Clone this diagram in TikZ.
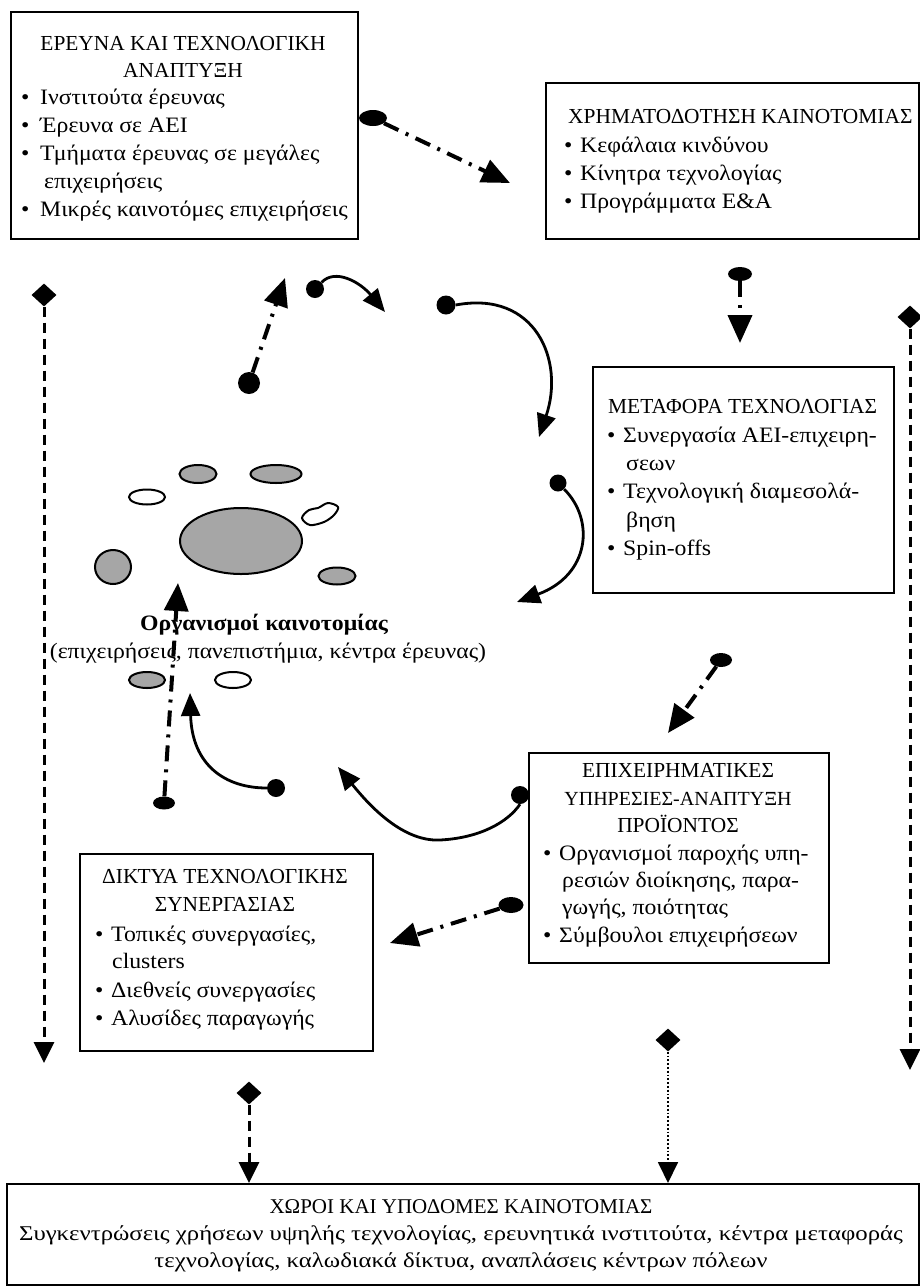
\documentclass[tikz,border=0pt]{standalone}
\usepackage{fontspec}
\setmainfont{Liberation Serif}
\newfontfamily\bodyfont[FakeStretch=1.08]{Liberation Serif}
\newfontfamily\widefont[FakeStretch=1.18]{Liberation Serif}
\usetikzlibrary{arrows.meta,shapes.geometric}
\begin{document}
\begin{tikzpicture}[x=1pt,y=-1pt,
  box/.style={draw, line width=2pt, inner sep=0pt, anchor=north west},
  tl/.style={font=\bodyfont\fontsize{22}{28}\selectfont, inner sep=0pt, anchor=base west},
  hl/.style={font=\fontsize{21.4}{28}\selectfont, inner sep=0pt, anchor=base west},
  tc/.style={font=\fontsize{21.4}{28}\selectfont, inner sep=0pt, anchor=base},
  bc/.style={font=\fontsize{21}{27}\selectfont, inner sep=0pt, anchor=base},
  bw/.style={font=\widefont\fontsize{21}{27}\selectfont, inner sep=0pt, anchor=base},
  bdot/.style={circle, fill=black, inner sep=0pt, minimum size=#1},
  eblob/.style={ellipse, fill=black, inner sep=0pt, minimum width=24pt, minimum height=14pt},
  dmd/.style={diamond, fill=black, inner sep=0pt, minimum width=25pt, minimum height=23pt},
  dd/.style={line width=4pt, dash pattern=on 16pt off 8pt on 3pt off 8pt},
  curv/.style={line width=2.8pt},
  vd/.style={line width=3pt, dash pattern=on 10pt off 6pt},
  vdot/.style={line width=1.8pt, dash pattern=on 1.8pt off 2pt},
  bigtip/.style={-{Triangle[length=28pt,width=24pt]}},
  ctip/.style={-{Triangle[length=23pt,width=19pt]}},
  vtip/.style={-{Triangle[length=21pt,width=20pt]}},
  org/.style={ellipse, draw, line width=2pt, inner sep=0pt},
  shade/.style={fill=black!35}
]
\useasboundingbox (0,0) rectangle (920,1286);

% ---------- Box 1 ----------
\node[box, minimum width=347pt, minimum height=227pt] (b1) at (10,11) {};
\node[tc] (b1t1) at (183,50) {ΕΡΕΥΝΑ ΚΑΙ ΤΕΧΝΟΛΟΓΙΚΗ};
\node[tc] (b1t2) at (183,77) {ΑΝΑΠΤΥΞΗ};
\node[tl] (b1l1) at (21,104) {\makebox[19pt][l]{\textbullet}Ινστιτούτα έρευνας};
\node[tl] (b1l2) at (21,132) {\makebox[19pt][l]{\textbullet}Έρευνα σε ΑΕΙ};
\node[tl] (b1l3) at (21,160) {\makebox[19pt][l]{\textbullet}Τμήματα έρευνας σε μεγάλες};
\node[tl] (b1l4) at (44,188) {επιχειρήσεις};
\node[tl] (b1l5) at (21,216) {\makebox[19pt][l]{\textbullet}Μικρές καινοτόμες επιχειρήσεις};

% ---------- Box 2 ----------
\node[box, minimum width=373pt, minimum height=156pt] (b2) at (545,82) {};
\node[hl] (b2t1) at (568,123) {ΧΡΗΜΑΤΟΔΟΤΗΣΗ ΚΑΙΝΟΤΟΜΙΑΣ};
\node[tl] (b2l1) at (564,152) {\makebox[16pt][l]{\textbullet}Κεφάλαια κινδύνου};
\node[tl] (b2l2) at (564,180) {\makebox[16pt][l]{\textbullet}Κίνητρα τεχνολογίας};
\node[tl] (b2l3) at (564,208) {\makebox[16pt][l]{\textbullet}Προγράμματα Ε\&Α};

% ---------- Box 3 ----------
\node[box, minimum width=301pt, minimum height=226pt] (b3) at (592,366) {};
\node[hl] (b3t1) at (608,413) {ΜΕΤΑΦΟΡΑ ΤΕΧΝΟΛΟΓΙΑΣ};
\node[tl] (b3l1) at (607,442) {\makebox[16pt][l]{\textbullet}Συνεργασία ΑΕΙ-επιχειρη-};
\node[tl] (b3l2) at (626,470) {σεων};
\node[tl] (b3l3) at (607,498) {\makebox[16pt][l]{\textbullet}Τεχνολογική διαμεσολά-};
\node[tl] (b3l4) at (626,527) {βηση};
\node[tl] (b3l5) at (607,555) {\makebox[16pt][l]{\textbullet}Spin-offs};

% ---------- Box 4 ----------
\node[box, minimum width=300pt, minimum height=210pt] (b4) at (528,752) {};
\node[tc] (b4t1) at (678,777) {ΕΠΙΧΕΙΡΗΜΑΤΙΚΕΣ};
\node[tc, font=\fontsize{20}{28}\selectfont] (b4t2) at (678,805) {ΥΠΗΡΕΣΙΕΣ-ΑΝΑΠΤΥΞΗ};
\node[tc] (b4t3) at (678,832) {ΠΡΟΪΟΝΤΟΣ};
\node[tl] (b4l1) at (543,860) {\makebox[16pt][l]{\textbullet}Οργανισμοί παροχής υπη-};
\node[tl] (b4l2) at (562,887) {ρεσιών διοίκησης, παρα-};
\node[tl] (b4l3) at (562,914) {γωγής, ποιότητας};
\node[tl] (b4l4) at (543,942) {\makebox[16pt][l]{\textbullet}Σύμβουλοι επιχειρήσεων};

% ---------- Box 5 ----------
\node[box, minimum width=293pt, minimum height=197pt] (b5) at (79,853) {};
\node[tc] (b5t1) at (225,883) {ΔΙΚΤΥΑ ΤΕΧΝΟΛΟΓΙΚΗΣ};
\node[tc] (b5t2) at (225,911) {ΣΥΝΕΡΓΑΣΙΑΣ};
\node[tl] (b5l1) at (95,941) {\makebox[16pt][l]{\textbullet}Τοπικές συνεργασίες,};
\node[tl] (b5l2) at (112,968) {clusters};
\node[tl] (b5l3) at (95,997) {\makebox[16pt][l]{\textbullet}Διεθνείς συνεργασίες};
\node[tl] (b5l4) at (95,1025) {\makebox[16pt][l]{\textbullet}Αλυσίδες παραγωγής};

% ---------- Box 6 ----------
\node[box, minimum width=912pt, minimum height=101pt] (b6) at (6,1183) {};
\node[bc] (b6t1) at (461,1213) {ΧΩΡΟΙ ΚΑΙ ΥΠΟΔΟΜΕΣ ΚΑΙΝΟΤΟΜΙΑΣ};
\node[bw] (b6t2) at (461,1240) {Συγκεντρώσεις χρήσεων υψηλής τεχνολογίας, ερευνητικά ινστιτούτα, κέντρα μεταφοράς};
\node[bw] (b6t3) at (461,1267) {τεχνολογίας, καλωδιακά δίκτυα, αναπλάσεις κέντρων πόλεων};

% ---------- organisations cluster ----------
\node[org, shade, minimum width=122pt, minimum height=66pt] (o0) at (241,541) {};
\node[org, shade, minimum width=37pt, minimum height=18pt] (o1) at (198,474) {};
\node[org, shade, minimum width=51pt, minimum height=18pt] (o2) at (276,474) {};
\node[org, fill=white, minimum width=36pt, minimum height=15pt] (o3) at (147,497) {};
\node[org, shade, minimum width=36pt, minimum height=34pt] (o4) at (113,567) {};
\node[org, shade, minimum width=37pt, minimum height=17pt] (o5) at (337,576) {};
\node[org, shade, minimum width=36pt, minimum height=16pt] (o6) at (147,680) {};
\node[org, fill=white, minimum width=36pt, minimum height=16pt] (o7) at (233,680) {};
\draw[line width=2pt] plot[smooth cycle, tension=0.55] coordinates {(302,518) (309,510) (318,508) (328,503) (338,507) (334,515) (324,522) (310,525)};

% ---------- vertical dash-dot arrow through label ----------
\node[eblob, minimum width=22pt, minimum height=13pt] (s10) at (164,803) {};
\coordinate (t10) at (178,583);
\draw[dd, bigtip] (s10) -- (t10);

\node[tc, font=\bodyfont\fontsize{22}{28}\selectfont\bfseries] (lab1) at (264,630) {Οργανισμοί καινοτομίας};
\node[tc, font=\bodyfont\fontsize{22}{28}\selectfont] (lab2) at (268,658) {(επιχειρήσεις, πανεπιστήμια, κέντρα έρευνας)};

% ---------- top dash-dot arrows ----------
\node[eblob, minimum width=28pt, minimum height=16pt] (s1) at (373,118) {};
\coordinate (t1) at (510,183);
\draw[dd, bigtip] (s1) -- (t1);

\node[eblob] (s2) at (740,274) {};
\coordinate (t2) at (740,343);
\draw[dd, bigtip] (s2) -- (t2);

\node[bdot=22pt] (s3) at (249,383) {};
\coordinate (t3) at (285,278);
\draw[dd, bigtip] (s3) -- (t3);

% ---------- solid curved arrows ----------
\node[bdot=18pt] (s4) at (315,289) {};
\coordinate (t4) at (385,312);
\draw[curv, ctip] (s4.north east) .. controls (335,268) and (360,282) .. (t4);

\node[bdot=19pt] (s5) at (446,305) {};
\coordinate (t5) at (539,437);
\draw[curv, ctip] (s5.east) .. controls (535,290) and (565,360) .. (t5);

\node[bdot=17pt] (s6) at (558,483) {};
\coordinate (t6) at (517,602);
\draw[curv, ctip] (s6.south east) .. controls (595,520) and (590,575) .. (t6);

\node[bdot=18pt] (s8) at (520,795) {};
\coordinate (m8) at (440,840);
\coordinate (t8) at (338,767);
\draw[curv, ctip] (s8.south) .. controls (508,822) and (480,838) .. (m8) .. controls (400,842) and (365,800) .. (t8);

\node[bdot=18pt] (s9) at (276,788) {};
\coordinate (t9) at (190,693);
\draw[curv, ctip] (s9.west) .. controls (225,788) and (192,765) .. (t9);

% ---------- dash-dot arrows lower right ----------
\node[eblob, minimum width=22pt, minimum height=14pt] (s7) at (721,660) {};
\coordinate (t7) at (668,733);
\draw[dd, bigtip] (s7) -- (t7);

\node[eblob, minimum width=25pt, minimum height=16pt] (s11) at (511,905) {};
\coordinate (t11) at (390,943);
\draw[dd, bigtip] (s11) -- (t11);

% ---------- vertical dashed lines with diamonds ----------
\node[dmd] (m1) at (44,295) {};
\coordinate (v1) at (44,1063);
\draw[vd, vtip] (m1) -- (v1);

\node[dmd] (m2) at (910,317) {};
\coordinate (v2) at (910,1070);
\draw[vd, vtip] (m2) -- (v2);

\node[dmd] (m3) at (249,1093) {};
\draw[vd, vtip] (m3) -- (m3 |- b6.north);

\node[dmd] (m4) at (668,1040) {};
\draw[vdot, vtip] (m4) -- (m4 |- b6.north);
\end{tikzpicture}
\end{document}
